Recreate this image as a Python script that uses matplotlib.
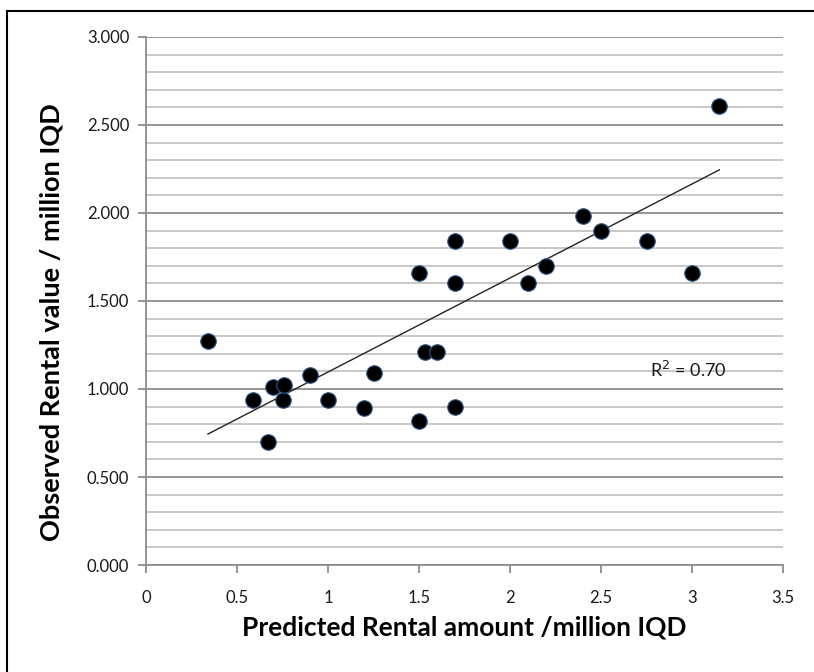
import numpy as np
import matplotlib.pyplot as plt
from matplotlib.ticker import MultipleLocator, FormatStrFormatter
from matplotlib.lines import Line2D

# predicted vs observed rental (million IQD)
predicted = [0.34, 0.59, 0.67, 0.70, 0.75, 0.76, 0.90, 1.00, 1.20, 1.25,
             1.50, 1.50, 1.53, 1.60, 1.70, 1.70, 1.70, 2.00, 2.10, 2.20,
             2.40, 2.50, 2.75, 3.00, 3.15]
observed = [1.27, 0.94, 0.70, 1.01, 0.94, 1.02, 1.08, 0.94, 0.89, 1.09,
            1.66, 0.82, 1.21, 1.21, 1.84, 1.60, 0.90, 1.84, 1.60, 1.70,
            1.98, 1.90, 1.84, 1.66, 2.61]

# trend line as drawn on the chart (endpoints of the fitted line)
trend_x = [0.34, 3.15]
trend_y = [0.744, 2.245]
r2_label = "R$^2$ = 0.70"

plt.rcParams['font.family'] = ['Lato', 'DejaVu Sans']

fig = plt.figure(figsize=(8.14, 6.72), dpi=100)
ax = fig.add_axes([0.1794, 0.1592, 0.962 - 0.1794, 0.945 - 0.1592])

ax.set_xlim(0, 3.5)
ax.set_ylim(0, 3.0)
ax.xaxis.set_major_locator(MultipleLocator(0.5))
ax.yaxis.set_major_locator(MultipleLocator(0.5))
ax.yaxis.set_minor_locator(MultipleLocator(0.1))
ax.yaxis.set_major_formatter(FormatStrFormatter('%.3f'))
ax.xaxis.set_major_formatter(plt.FuncFormatter(lambda v, p: f"{v:g}"))

ax.grid(True, which='major', axis='y', color='#8c8c8c', linewidth=1.3)
ax.grid(True, which='minor', axis='y', color='#c4c4c4', linewidth=1.3)
ax.set_axisbelow(True)

for side in ['top', 'right']:
    ax.spines[side].set_visible(False)
for side in ['left', 'bottom']:
    ax.spines[side].set_color('#8c8c8c')
    ax.spines[side].set_linewidth(1.3)

ax.tick_params(axis='both', which='major', direction='out', length=6,
               width=1.3, color='#8c8c8c', labelsize=12, labelcolor='#1a1a1a')
ax.tick_params(axis='y', which='minor', length=0)
ax.tick_params(axis='x', pad=12)
ax.tick_params(axis='y', pad=6)

ax.plot(trend_x, trend_y, color='#222222', linewidth=1.0, zorder=2)
ax.scatter(predicted, observed, s=125, color='black', edgecolors='#2f5a8a',
           linewidths=0.8, zorder=3)

ax.text(2.98, 1.11, r2_label, fontsize=13, ha='center', va='center',
        color='#1a1a1a')

ax.set_xlabel("Predicted Rental amount /million IQD", fontsize=19,
              fontweight='bold', labelpad=7)
ax.set_ylabel("Observed Rental value / million IQD", fontsize=19.5,
              fontweight='bold')
ax.yaxis.set_label_coords(-0.130, 0.46)

# outer chart frame (left and top edges visible)
fig.add_artist(Line2D([7 / 814, 7 / 814], [0, 1 - 11 / 672],
                      transform=fig.transFigure, color='black', linewidth=1.5))
fig.add_artist(Line2D([7 / 814, 1], [1 - 11 / 672, 1 - 11 / 672],
                      transform=fig.transFigure, color='black', linewidth=1.5))

fig.savefig("out.png", dpi=100)
